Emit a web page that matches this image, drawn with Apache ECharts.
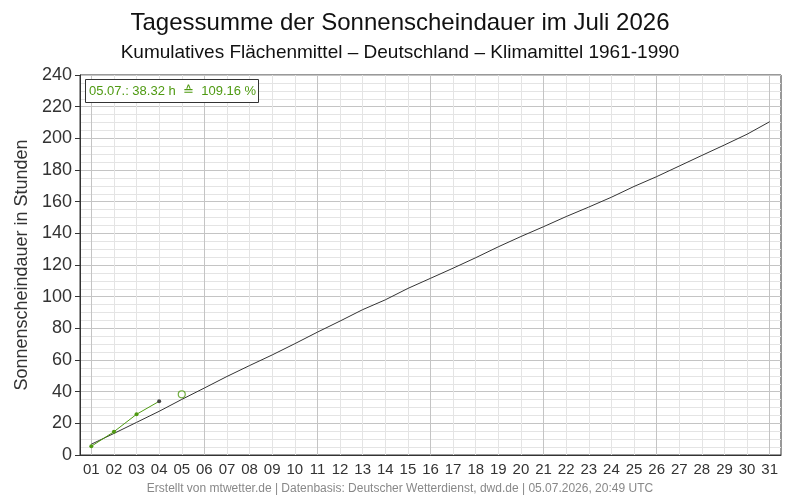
<!DOCTYPE html>
<html>
<head>
<meta charset="utf-8">
<script src="https://cdn.jsdelivr.net/npm/echarts@6/dist/echarts.min.js"></script>
<style>
  html, body { margin: 0; padding: 0; background: #fff; }
  #chart { width: 800px; height: 500px; }
</style>
</head>
<body>
<div id="chart"></div>
<script>
// Tage im Juli
const days = Array.from({ length: 31 }, (_, i) => i + 1)
const majorDays = [1, 6, 11, 16, 21, 26, 31]

// Klimamittel 1961-1990, kumuliert (Stunden)
const climateSum = [
  6.8, 13.6, 20.6, 27.6, 35.1, 42.3, 49.6, 56.5, 63.2, 70.3,
  77.6, 84.6, 91.8, 98.0, 105.2, 111.6, 118.0, 124.6, 131.5, 138.0,
  144.2, 150.6, 156.6, 162.8, 169.6, 175.8, 182.5, 189.2, 195.8, 202.6,
  210.5
]

// Juli 2026, kumuliert (Stunden)
const obsDays = [1, 2, 3, 4]
const obsSum = [5.5, 14.7, 25.7, 33.9]

// aktueller Stand
const currentDay = 5
const currentSum = 38.32
const currentPct = 109.16
const currentLabel = '05.07.'

const green = '#4f9a12'
const dark = '#333333'
const font = 'Liberation Sans'

const obsData = obsDays.map((d, i) => {
  const p = { value: [d, obsSum[i]] }
  if (i === obsDays.length - 1) p.itemStyle = { color: '#444' }
  return p
})

const mychart = echarts.init(document.getElementById('chart'))

const option = {
  animation: false,
  textStyle: { fontFamily: font },
  title: [
    {
      text: 'Tagessumme der Sonnenscheindauer im Juli 2026',
      left: 'center',
      top: 6,
      textStyle: { fontSize: 24, fontWeight: 'normal', color: '#111', fontFamily: font }
    },
    {
      text: 'Kumulatives Flächenmittel – Deutschland – Klimamittel 1961-1990',
      left: 'center',
      top: 38,
      textStyle: { fontSize: 19, fontWeight: 'normal', color: '#111', fontFamily: font }
    },
    {
      text: 'Erstellt von mtwetter.de | Datenbasis: Deutscher Wetterdienst, dwd.de | 05.07.2026, 20:49 UTC',
      left: 'center',
      top: 483,
      padding: 0,
      textStyle: { fontSize: 12, fontWeight: 'normal', color: '#888', fontFamily: font }
    },
    {
      text: `${currentLabel}: ${currentSum.toFixed(2)} h  ≙  ${currentPct.toFixed(2)} %`,
      left: 85,
      top: 79,
      padding: [6, 3, 5, 4],
      borderColor: dark,
      borderWidth: 1,
      backgroundColor: '#fff',
      textStyle: { fontSize: 13, fontWeight: 'normal', color: green, fontFamily: font }
    }
  ],
  grid: {
    left: 80,
    right: 19,
    top: 75,
    bottom: 45,
    show: true,
    borderColor: dark,
    borderWidth: 1
  },
  xAxis: [
    {
      type: 'value',
      min: 0.5,
      max: 31.5,
      axisLine: { show: true, onZero: false, lineStyle: { color: dark } },
      axisTick: { show: false, customValues: days },
      axisLabel: {
        customValues: days,
        fontSize: 15,
        color: '#333',
        margin: 7,
        formatter: (v) => String(v).padStart(2, '0')
      },
      splitLine: { show: true, lineStyle: { color: '#e4e4e4', width: 1 } }
    },
    {
      type: 'value',
      min: 0.5,
      max: 31.5,
      position: 'bottom',
      axisLine: { show: false },
      axisTick: { show: false, customValues: majorDays },
      axisLabel: { show: false, customValues: majorDays },
      splitLine: { show: true, lineStyle: { color: '#c4c4c4', width: 1 } }
    }
  ],
  yAxis: {
    type: 'value',
    min: 0,
    max: 240,
    interval: 20,
    name: 'Sonnenscheindauer in Stunden',
    nameLocation: 'middle',
    nameGap: 43,
    nameTextStyle: { fontSize: 18, color: '#333', fontFamily: font },
    axisLine: { show: true, lineStyle: { color: dark } },
    axisTick: { show: true, length: 5, lineStyle: { color: dark } },
    axisLabel: { fontSize: 18, color: '#333', margin: 8 },
    splitLine: { show: true, lineStyle: { color: '#c4c4c4' } },
    minorTick: { show: false, splitNumber: 4 },
    minorSplitLine: { show: true, lineStyle: { color: '#e4e4e4' } }
  },
  series: [
    {
      name: 'Klimamittel',
      type: 'line',
      data: days.map((d, i) => [d, climateSum[i]]),
      showSymbol: false,
      symbol: 'none',
      lineStyle: { color: dark, width: 1 },
      z: 3
    },
    {
      name: 'Juli 2026',
      type: 'line',
      data: obsData,
      symbol: 'circle',
      symbolSize: 4,
      itemStyle: { color: green },
      lineStyle: { color: green, width: 1 },
      z: 4
    },
    {
      name: 'aktuell',
      type: 'scatter',
      data: [[currentDay, currentSum]],
      symbol: 'circle',
      symbolSize: 7,
      itemStyle: { color: '#fff', borderColor: green, borderWidth: 1.2 },
      z: 5
    }
  ]
}

mychart.setOption(option)
</script>
</body>
</html>
